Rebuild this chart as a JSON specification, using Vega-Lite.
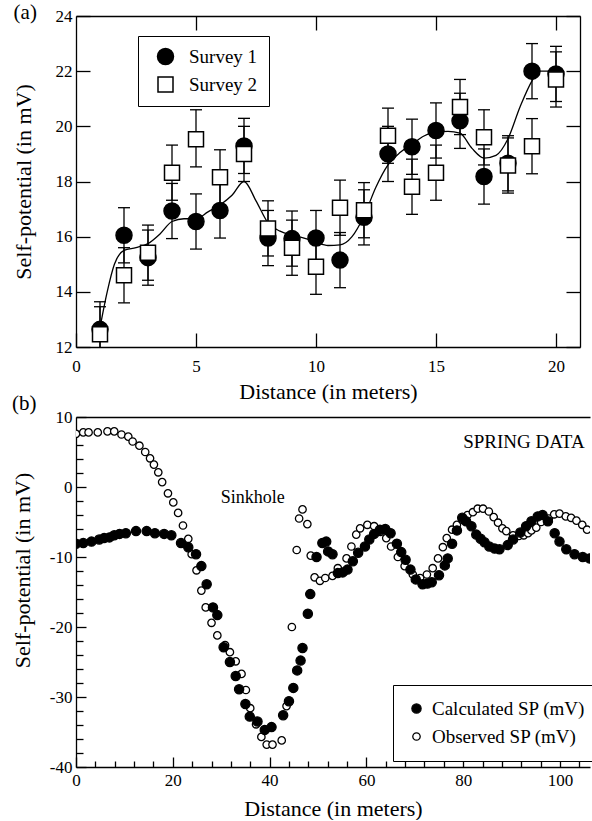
{
  "$schema": "https://vega.github.io/schema/vega-lite/v6.json",
  "background": "white",
  "padding": {"left": 11, "top": 2, "right": 1, "bottom": 1},
  "bounds": "flush",
  "spacing": 70,
  "config": {
    "view": {"stroke": null},
    "font": "Liberation Serif",
    "axis": {"domainColor": "black", "domainWidth": 1.3, "tickColor": "black", "tickWidth": 1.3, "labelFont": "Liberation Serif", "labelFontSize": 17, "labelColor": "black", "titleFont": "Liberation Serif", "titleFontSize": 22, "titleFontWeight": "normal", "titleColor": "black", "grid": false, "labelFlush": false, "labelOverlap": false},
    "text": {"font": "Liberation Serif", "color": "black"}
  },
  "resolve": {"scale": {"fill": "independent", "shape": "independent", "size": "independent", "stroke": "independent"}, "legend": {"fill": "independent", "shape": "independent", "size": "independent", "stroke": "independent"}},
  "datasets": {
    "line_a": [
      {"x": 1, "v": 12.7}, {"x": 1.3, "v": 14.0}, {"x": 1.6, "v": 15.0}, {"x": 2, "v": 15.5}, {"x": 2.5, "v": 15.6}, {"x": 3, "v": 15.75}, {"x": 3.5, "v": 16.1}, {"x": 4, "v": 16.55}, {"x": 4.5, "v": 16.65}, {"x": 5, "v": 16.65}, {"x": 5.5, "v": 16.9}, {"x": 6, "v": 17.15}, {"x": 6.5, "v": 17.5}, {"x": 7, "v": 18.0}, {"x": 7.5, "v": 17.3}, {"x": 8, "v": 16.5}, {"x": 8.5, "v": 16.2}, {"x": 9, "v": 16.05}, {"x": 9.5, "v": 15.95}, {"x": 10, "v": 15.8}, {"x": 10.5, "v": 15.68}, {"x": 11, "v": 15.7}, {"x": 11.5, "v": 16.0}, {"x": 12, "v": 16.75}, {"x": 12.5, "v": 17.8}, {"x": 13, "v": 18.6}, {"x": 13.5, "v": 19.05}, {"x": 14, "v": 19.35}, {"x": 14.5, "v": 19.65}, {"x": 15, "v": 19.8}, {"x": 15.5, "v": 19.82}, {"x": 16, "v": 19.75}, {"x": 16.5, "v": 19.2}, {"x": 17, "v": 18.85}, {"x": 17.5, "v": 18.95}, {"x": 18, "v": 19.55}, {"x": 18.5, "v": 20.7}, {"x": 19, "v": 21.65}, {"x": 19.3, "v": 22.0}, {"x": 20, "v": 22.0}
    ],
    "survey_a": [
      {"series": "Survey 1", "x": 1, "v": 12.64, "lo": 11.64, "hi": 13.64},
      {"series": "Survey 1", "x": 2, "v": 16.05, "lo": 15.05, "hi": 17.05},
      {"series": "Survey 1", "x": 3, "v": 15.24, "lo": 14.24, "hi": 16.24},
      {"series": "Survey 1", "x": 4, "v": 16.93, "lo": 15.93, "hi": 17.93},
      {"series": "Survey 1", "x": 5, "v": 16.55, "lo": 15.55, "hi": 17.55},
      {"series": "Survey 1", "x": 6, "v": 16.95, "lo": 15.95, "hi": 17.95},
      {"series": "Survey 1", "x": 7, "v": 19.29, "lo": 18.29, "hi": 20.29},
      {"series": "Survey 1", "x": 8, "v": 15.95, "lo": 14.95, "hi": 16.95},
      {"series": "Survey 1", "x": 9, "v": 15.93, "lo": 14.93, "hi": 16.93},
      {"series": "Survey 1", "x": 10, "v": 15.95, "lo": 14.95, "hi": 16.95},
      {"series": "Survey 1", "x": 11, "v": 15.15, "lo": 14.15, "hi": 16.15},
      {"series": "Survey 1", "x": 12, "v": 16.7, "lo": 15.7, "hi": 17.7},
      {"series": "Survey 1", "x": 13, "v": 19.0, "lo": 18.0, "hi": 20.0},
      {"series": "Survey 1", "x": 14, "v": 19.26, "lo": 18.26, "hi": 20.26},
      {"series": "Survey 1", "x": 15, "v": 19.85, "lo": 18.85, "hi": 20.85},
      {"series": "Survey 1", "x": 16, "v": 20.2, "lo": 19.2, "hi": 21.2},
      {"series": "Survey 1", "x": 17, "v": 18.18, "lo": 17.18, "hi": 19.18},
      {"series": "Survey 1", "x": 18, "v": 18.66, "lo": 17.66, "hi": 19.66},
      {"series": "Survey 1", "x": 19, "v": 22.0, "lo": 21.0, "hi": 23.0},
      {"series": "Survey 1", "x": 20, "v": 21.9, "lo": 20.9, "hi": 22.9},
      {"series": "Survey 2", "x": 1, "v": 12.46, "lo": 11.46, "hi": 13.46},
      {"series": "Survey 2", "x": 2, "v": 14.6, "lo": 13.6, "hi": 15.6},
      {"series": "Survey 2", "x": 3, "v": 15.42, "lo": 14.42, "hi": 16.42},
      {"series": "Survey 2", "x": 4, "v": 18.32, "lo": 17.32, "hi": 19.32},
      {"series": "Survey 2", "x": 5, "v": 19.53, "lo": 18.53, "hi": 20.6},
      {"series": "Survey 2", "x": 6, "v": 18.15, "lo": 17.15, "hi": 19.15},
      {"series": "Survey 2", "x": 7, "v": 19.0, "lo": 18.0, "hi": 20.0},
      {"series": "Survey 2", "x": 8, "v": 16.3, "lo": 15.3, "hi": 17.3},
      {"series": "Survey 2", "x": 9, "v": 15.6, "lo": 14.6, "hi": 16.6},
      {"series": "Survey 2", "x": 10, "v": 14.91, "lo": 13.91, "hi": 15.91},
      {"series": "Survey 2", "x": 11, "v": 17.05, "lo": 16.05, "hi": 18.05},
      {"series": "Survey 2", "x": 12, "v": 16.96, "lo": 15.96, "hi": 17.96},
      {"series": "Survey 2", "x": 13, "v": 19.66, "lo": 18.66, "hi": 20.66},
      {"series": "Survey 2", "x": 14, "v": 17.81, "lo": 16.81, "hi": 18.81},
      {"series": "Survey 2", "x": 15, "v": 18.32, "lo": 17.32, "hi": 19.32},
      {"series": "Survey 2", "x": 16, "v": 20.7, "lo": 19.7, "hi": 21.7},
      {"series": "Survey 2", "x": 17, "v": 19.6, "lo": 18.6, "hi": 20.6},
      {"series": "Survey 2", "x": 18, "v": 18.58, "lo": 17.58, "hi": 19.58},
      {"series": "Survey 2", "x": 19, "v": 19.28, "lo": 18.28, "hi": 20.28},
      {"series": "Survey 2", "x": 20, "v": 21.7, "lo": 20.7, "hi": 22.7}
    ],
    "sp_b": [
      {"series": "Observed SP (mV)", "d": 0, "sp": 7.6}, {"series": "Observed SP (mV)", "d": 1.5, "sp": 7.8}, {"series": "Observed SP (mV)", "d": 2.6, "sp": 7.8}, {"series": "Observed SP (mV)", "d": 4.5, "sp": 7.8}, {"series": "Observed SP (mV)", "d": 6.5, "sp": 7.95}, {"series": "Observed SP (mV)", "d": 7.9, "sp": 7.95}, {"series": "Observed SP (mV)", "d": 9.4, "sp": 7.5}, {"series": "Observed SP (mV)", "d": 10.8, "sp": 7.2}, {"series": "Observed SP (mV)", "d": 11.7, "sp": 6.5}, {"series": "Observed SP (mV)", "d": 13.1, "sp": 5.9}, {"series": "Observed SP (mV)", "d": 14.3, "sp": 5.0}, {"series": "Observed SP (mV)", "d": 15.3, "sp": 4.1}, {"series": "Observed SP (mV)", "d": 16.1, "sp": 3.2}, {"series": "Observed SP (mV)", "d": 17.0, "sp": 2.1}, {"series": "Observed SP (mV)", "d": 17.8, "sp": 0.7}, {"series": "Observed SP (mV)", "d": 19.0, "sp": -0.9}, {"series": "Observed SP (mV)", "d": 20.1, "sp": -2.2}, {"series": "Observed SP (mV)", "d": 21.1, "sp": -3.7}, {"series": "Observed SP (mV)", "d": 22.1, "sp": -5.5}, {"series": "Observed SP (mV)", "d": 23.2, "sp": -7.4}, {"series": "Observed SP (mV)", "d": 23.9, "sp": -9.6}, {"series": "Observed SP (mV)", "d": 24.9, "sp": -11.9}, {"series": "Observed SP (mV)", "d": 25.9, "sp": -14.8}, {"series": "Observed SP (mV)", "d": 26.8, "sp": -17.2}, {"series": "Observed SP (mV)", "d": 28.0, "sp": -19.4}, {"series": "Observed SP (mV)", "d": 29.2, "sp": -21.2}, {"series": "Observed SP (mV)", "d": 30.8, "sp": -22.6}, {"series": "Observed SP (mV)", "d": 31.8, "sp": -23.6}, {"series": "Observed SP (mV)", "d": 33.0, "sp": -24.9}, {"series": "Observed SP (mV)", "d": 34.2, "sp": -26.7}, {"series": "Observed SP (mV)", "d": 35.1, "sp": -29.0}, {"series": "Observed SP (mV)", "d": 36.0, "sp": -31.6}, {"series": "Observed SP (mV)", "d": 37.2, "sp": -33.9}, {"series": "Observed SP (mV)", "d": 38.3, "sp": -35.7}, {"series": "Observed SP (mV)", "d": 39.4, "sp": -36.8}, {"series": "Observed SP (mV)", "d": 40.6, "sp": -36.8}, {"series": "Observed SP (mV)", "d": 42.5, "sp": -36.2}, {"series": "Observed SP (mV)", "d": 43.5, "sp": -31.3}, {"series": "Observed SP (mV)", "d": 44.6, "sp": -20.0}, {"series": "Observed SP (mV)", "d": 45.6, "sp": -9.0}, {"series": "Observed SP (mV)", "d": 46.1, "sp": -4.5}, {"series": "Observed SP (mV)", "d": 46.8, "sp": -3.2}, {"series": "Observed SP (mV)", "d": 47.8, "sp": -5.3}, {"series": "Observed SP (mV)", "d": 48.5, "sp": -9.8}, {"series": "Observed SP (mV)", "d": 49.3, "sp": -12.9}, {"series": "Observed SP (mV)", "d": 50.4, "sp": -13.4}, {"series": "Observed SP (mV)", "d": 51.5, "sp": -13.0}, {"series": "Observed SP (mV)", "d": 53.0, "sp": -12.7}, {"series": "Observed SP (mV)", "d": 54.1, "sp": -11.6}, {"series": "Observed SP (mV)", "d": 55.9, "sp": -10.2}, {"series": "Observed SP (mV)", "d": 56.9, "sp": -8.5}, {"series": "Observed SP (mV)", "d": 57.9, "sp": -6.8}, {"series": "Observed SP (mV)", "d": 58.7, "sp": -5.9}, {"series": "Observed SP (mV)", "d": 60.2, "sp": -5.4}, {"series": "Observed SP (mV)", "d": 61.6, "sp": -5.6}, {"series": "Observed SP (mV)", "d": 62.9, "sp": -6.4}, {"series": "Observed SP (mV)", "d": 64.1, "sp": -7.3}, {"series": "Observed SP (mV)", "d": 65.1, "sp": -8.5}, {"series": "Observed SP (mV)", "d": 66.5, "sp": -10.0}, {"series": "Observed SP (mV)", "d": 67.9, "sp": -11.3}, {"series": "Observed SP (mV)", "d": 69.6, "sp": -12.5}, {"series": "Observed SP (mV)", "d": 71.1, "sp": -13.0}, {"series": "Observed SP (mV)", "d": 72.5, "sp": -12.5}, {"series": "Observed SP (mV)", "d": 73.7, "sp": -11.6}, {"series": "Observed SP (mV)", "d": 74.8, "sp": -10.2}, {"series": "Observed SP (mV)", "d": 75.8, "sp": -8.6}, {"series": "Observed SP (mV)", "d": 76.6, "sp": -7.3}, {"series": "Observed SP (mV)", "d": 77.7, "sp": -6.1}, {"series": "Observed SP (mV)", "d": 78.7, "sp": -5.4}, {"series": "Observed SP (mV)", "d": 79.8, "sp": -4.7}, {"series": "Observed SP (mV)", "d": 80.9, "sp": -4.0}, {"series": "Observed SP (mV)", "d": 82.0, "sp": -3.6}, {"series": "Observed SP (mV)", "d": 83.0, "sp": -3.1}, {"series": "Observed SP (mV)", "d": 84.1, "sp": -3.1}, {"series": "Observed SP (mV)", "d": 85.3, "sp": -3.5}, {"series": "Observed SP (mV)", "d": 86.3, "sp": -4.3}, {"series": "Observed SP (mV)", "d": 87.2, "sp": -5.1}, {"series": "Observed SP (mV)", "d": 88.1, "sp": -5.9}, {"series": "Observed SP (mV)", "d": 88.9, "sp": -6.3}, {"series": "Observed SP (mV)", "d": 90.3, "sp": -6.9}, {"series": "Observed SP (mV)", "d": 91.5, "sp": -7.0}, {"series": "Observed SP (mV)", "d": 92.5, "sp": -6.9}, {"series": "Observed SP (mV)", "d": 93.4, "sp": -6.6}, {"series": "Observed SP (mV)", "d": 94.1, "sp": -6.2}, {"series": "Observed SP (mV)", "d": 95.1, "sp": -5.8}, {"series": "Observed SP (mV)", "d": 96.1, "sp": -5.0}, {"series": "Observed SP (mV)", "d": 97.7, "sp": -4.5}, {"series": "Observed SP (mV)", "d": 98.8, "sp": -3.9}, {"series": "Observed SP (mV)", "d": 99.9, "sp": -3.8}, {"series": "Observed SP (mV)", "d": 101.2, "sp": -4.2}, {"series": "Observed SP (mV)", "d": 102.3, "sp": -4.4}, {"series": "Observed SP (mV)", "d": 103.4, "sp": -4.8}, {"series": "Observed SP (mV)", "d": 104.6, "sp": -5.4}, {"series": "Observed SP (mV)", "d": 105.6, "sp": -6.1},
      {"series": "Calculated SP (mV)", "d": 0, "sp": -8.1}, {"series": "Calculated SP (mV)", "d": 1.5, "sp": -8.0}, {"series": "Calculated SP (mV)", "d": 3.2, "sp": -7.8}, {"series": "Calculated SP (mV)", "d": 4.8, "sp": -7.5}, {"series": "Calculated SP (mV)", "d": 5.8, "sp": -7.3}, {"series": "Calculated SP (mV)", "d": 6.9, "sp": -7.2}, {"series": "Calculated SP (mV)", "d": 7.9, "sp": -6.9}, {"series": "Calculated SP (mV)", "d": 9.0, "sp": -6.7}, {"series": "Calculated SP (mV)", "d": 10.3, "sp": -6.6}, {"series": "Calculated SP (mV)", "d": 12.4, "sp": -6.3}, {"series": "Calculated SP (mV)", "d": 14.6, "sp": -6.3}, {"series": "Calculated SP (mV)", "d": 16.3, "sp": -6.6}, {"series": "Calculated SP (mV)", "d": 18.2, "sp": -6.7}, {"series": "Calculated SP (mV)", "d": 19.7, "sp": -6.9}, {"series": "Calculated SP (mV)", "d": 21.7, "sp": -8.0}, {"series": "Calculated SP (mV)", "d": 23.2, "sp": -8.6}, {"series": "Calculated SP (mV)", "d": 24.8, "sp": -9.6}, {"series": "Calculated SP (mV)", "d": 25.9, "sp": -11.3}, {"series": "Calculated SP (mV)", "d": 27.0, "sp": -13.9}, {"series": "Calculated SP (mV)", "d": 28.3, "sp": -17.2}, {"series": "Calculated SP (mV)", "d": 29.2, "sp": -18.3}, {"series": "Calculated SP (mV)", "d": 30.5, "sp": -22.9}, {"series": "Calculated SP (mV)", "d": 31.8, "sp": -25.0}, {"series": "Calculated SP (mV)", "d": 33.0, "sp": -27.0}, {"series": "Calculated SP (mV)", "d": 33.7, "sp": -28.9}, {"series": "Calculated SP (mV)", "d": 35.0, "sp": -31.0}, {"series": "Calculated SP (mV)", "d": 35.9, "sp": -32.8}, {"series": "Calculated SP (mV)", "d": 37.5, "sp": -33.5}, {"series": "Calculated SP (mV)", "d": 39.0, "sp": -34.7}, {"series": "Calculated SP (mV)", "d": 40.4, "sp": -34.3}, {"series": "Calculated SP (mV)", "d": 42.8, "sp": -32.6}, {"series": "Calculated SP (mV)", "d": 44.0, "sp": -30.6}, {"series": "Calculated SP (mV)", "d": 44.9, "sp": -28.7}, {"series": "Calculated SP (mV)", "d": 45.7, "sp": -26.2}, {"series": "Calculated SP (mV)", "d": 46.4, "sp": -24.8}, {"series": "Calculated SP (mV)", "d": 46.8, "sp": -23.0}, {"series": "Calculated SP (mV)", "d": 47.9, "sp": -18.1}, {"series": "Calculated SP (mV)", "d": 48.4, "sp": -15.3}, {"series": "Calculated SP (mV)", "d": 49.7, "sp": -10.0}, {"series": "Calculated SP (mV)", "d": 50.9, "sp": -8.0}, {"series": "Calculated SP (mV)", "d": 51.7, "sp": -7.8}, {"series": "Calculated SP (mV)", "d": 52.1, "sp": -9.2}, {"series": "Calculated SP (mV)", "d": 53.0, "sp": -9.6}, {"series": "Calculated SP (mV)", "d": 54.1, "sp": -12.3}, {"series": "Calculated SP (mV)", "d": 55.1, "sp": -12.2}, {"series": "Calculated SP (mV)", "d": 56.1, "sp": -11.8}, {"series": "Calculated SP (mV)", "d": 57.2, "sp": -10.6}, {"series": "Calculated SP (mV)", "d": 58.3, "sp": -9.4}, {"series": "Calculated SP (mV)", "d": 59.7, "sp": -8.5}, {"series": "Calculated SP (mV)", "d": 60.6, "sp": -7.5}, {"series": "Calculated SP (mV)", "d": 61.6, "sp": -6.7}, {"series": "Calculated SP (mV)", "d": 62.8, "sp": -6.1}, {"series": "Calculated SP (mV)", "d": 63.9, "sp": -6.0}, {"series": "Calculated SP (mV)", "d": 65.0, "sp": -6.6}, {"series": "Calculated SP (mV)", "d": 66.3, "sp": -8.1}, {"series": "Calculated SP (mV)", "d": 67.2, "sp": -9.3}, {"series": "Calculated SP (mV)", "d": 68.1, "sp": -10.4}, {"series": "Calculated SP (mV)", "d": 69.1, "sp": -11.8}, {"series": "Calculated SP (mV)", "d": 70.2, "sp": -13.2}, {"series": "Calculated SP (mV)", "d": 71.6, "sp": -13.9}, {"series": "Calculated SP (mV)", "d": 72.6, "sp": -13.8}, {"series": "Calculated SP (mV)", "d": 73.5, "sp": -13.6}, {"series": "Calculated SP (mV)", "d": 75.0, "sp": -12.6}, {"series": "Calculated SP (mV)", "d": 76.2, "sp": -11.2}, {"series": "Calculated SP (mV)", "d": 76.8, "sp": -10.2}, {"series": "Calculated SP (mV)", "d": 77.7, "sp": -8.1}, {"series": "Calculated SP (mV)", "d": 78.7, "sp": -6.2}, {"series": "Calculated SP (mV)", "d": 79.8, "sp": -4.4}, {"series": "Calculated SP (mV)", "d": 80.6, "sp": -4.9}, {"series": "Calculated SP (mV)", "d": 81.7, "sp": -5.6}, {"series": "Calculated SP (mV)", "d": 82.7, "sp": -6.8}, {"series": "Calculated SP (mV)", "d": 83.6, "sp": -7.4}, {"series": "Calculated SP (mV)", "d": 84.4, "sp": -7.9}, {"series": "Calculated SP (mV)", "d": 85.4, "sp": -8.5}, {"series": "Calculated SP (mV)", "d": 86.5, "sp": -8.8}, {"series": "Calculated SP (mV)", "d": 87.5, "sp": -8.9}, {"series": "Calculated SP (mV)", "d": 89.2, "sp": -8.3}, {"series": "Calculated SP (mV)", "d": 90.3, "sp": -7.5}, {"series": "Calculated SP (mV)", "d": 91.8, "sp": -6.5}, {"series": "Calculated SP (mV)", "d": 93.0, "sp": -5.6}, {"series": "Calculated SP (mV)", "d": 94.1, "sp": -4.9}, {"series": "Calculated SP (mV)", "d": 95.4, "sp": -4.2}, {"series": "Calculated SP (mV)", "d": 96.4, "sp": -4.0}, {"series": "Calculated SP (mV)", "d": 97.5, "sp": -4.9}, {"series": "Calculated SP (mV)", "d": 98.9, "sp": -6.6}, {"series": "Calculated SP (mV)", "d": 99.9, "sp": -7.8}, {"series": "Calculated SP (mV)", "d": 101.3, "sp": -8.9}, {"series": "Calculated SP (mV)", "d": 103.0, "sp": -9.6}, {"series": "Calculated SP (mV)", "d": 104.7, "sp": -10.0}, {"series": "Calculated SP (mV)", "d": 106.1, "sp": -10.2}
    ]
  },
  "vconcat": [
    {
      "width": 504,
      "height": 331,
      "layer": [
        {
          "data": {"name": "line_a"},
          "mark": {"type": "line", "interpolate": "monotone", "color": "black", "strokeWidth": 1.3},
          "encoding": {
            "x": {"field": "x", "type": "quantitative", "scale": {"domain": [0, 21], "nice": false, "zero": false},
              "axis": {"orient": "bottom", "values": [0, 5, 10, 15, 20], "tickSize": -14, "labelPadding": 25, "title": "Distance (in meters)", "titlePadding": 7}},
            "y": {"field": "v", "type": "quantitative", "scale": {"domain": [12, 24], "nice": false, "zero": false},
              "axis": {"orient": "left", "values": [12, 14, 16, 18, 20, 22, 24], "tickSize": -14, "labelPadding": 18, "title": "Self-potential (in mV)", "titlePadding": 20}}
          }
        },
        {
          "data": {"name": "survey_a"},
          "mark": {"type": "rule", "color": "black", "strokeWidth": 1.3, "clip": true},
          "encoding": {
            "x": {"field": "x", "type": "quantitative", "axis": {"orient": "top", "values": [5, 10, 15, 20], "tickSize": -14, "labels": false, "title": null}},
            "y": {"field": "lo", "type": "quantitative", "axis": {"orient": "right", "values": [12, 14, 16, 18, 20, 22, 24], "tickSize": -14, "labels": false, "title": null}},
            "y2": {"field": "hi"}
          }
        },
        {
          "data": {"name": "survey_a"},
          "mark": {"type": "tick", "orient": "horizontal", "color": "black", "size": 12, "thickness": 1.3, "clip": true, "opacity": 1},
          "encoding": {
            "x": {"field": "x", "type": "quantitative", "axis": null},
            "y": {"field": "lo", "type": "quantitative", "axis": null}
          }
        },
        {
          "data": {"name": "survey_a"},
          "mark": {"type": "tick", "orient": "horizontal", "color": "black", "size": 12, "thickness": 1.3, "clip": true, "opacity": 1},
          "encoding": {
            "x": {"field": "x", "type": "quantitative", "axis": null},
            "y": {"field": "hi", "type": "quantitative", "axis": null}
          }
        },
        {
          "data": {"name": "survey_a"},
          "mark": {"type": "point", "filled": true, "strokeWidth": 1.5, "opacity": 1},
          "encoding": {
            "x": {"field": "x", "type": "quantitative", "axis": null},
            "y": {"field": "v", "type": "quantitative", "axis": null},
            "shape": {"field": "series", "type": "nominal", "scale": {"domain": ["Survey 1", "Survey 2"], "range": ["circle", "square"]},
              "legend": {"orient": "none", "legendX": 62, "legendY": 20, "title": null, "padding": 11, "symbolOffset": 7, "strokeColor": "black", "fillColor": "white", "labelFont": "Liberation Serif", "labelFontSize": 19, "labelColor": "black", "labelOffset": 14, "rowPadding": 6, "symbolStrokeWidth": 1.5}},
            "fill": {"field": "series", "type": "nominal", "scale": {"domain": ["Survey 1", "Survey 2"], "range": ["black", "white"]},
              "legend": {"orient": "none", "legendX": 62, "legendY": 20, "title": null, "padding": 11, "symbolOffset": 7, "strokeColor": "black", "fillColor": "white", "labelFont": "Liberation Serif", "labelFontSize": 19, "labelColor": "black", "labelOffset": 14, "rowPadding": 6, "symbolStrokeWidth": 1.5}},
            "stroke": {"field": "series", "type": "nominal", "scale": {"domain": ["Survey 1", "Survey 2"], "range": ["black", "black"]},
              "legend": {"orient": "none", "legendX": 62, "legendY": 20, "title": null, "padding": 11, "symbolOffset": 7, "strokeColor": "black", "fillColor": "white", "labelFont": "Liberation Serif", "labelFontSize": 19, "labelColor": "black", "labelOffset": 14, "rowPadding": 6, "symbolStrokeWidth": 1.5}},
            "size": {"field": "series", "type": "nominal", "scale": {"domain": ["Survey 1", "Survey 2"], "range": [256, 225]},
              "legend": {"orient": "none", "legendX": 62, "legendY": 20, "title": null, "padding": 11, "symbolOffset": 7, "strokeColor": "black", "fillColor": "white", "labelFont": "Liberation Serif", "labelFontSize": 19, "labelColor": "black", "labelOffset": 14, "rowPadding": 6, "symbolStrokeWidth": 1.5}}
          }
        },
        {
          "data": {"values": [{}]},
          "mark": {"type": "text", "text": "(a)", "fontSize": 21, "align": "left", "baseline": "middle", "font": "Liberation Serif", "color": "black"},
          "encoding": {
            "x": {"datum": -2.6, "type": "quantitative", "axis": null},
            "y": {"datum": 24.1, "type": "quantitative", "axis": null}
          }
        }
      ],
      "resolve": {"axis": {"x": "independent", "y": "independent"}}
    },
    {
      "width": 514,
      "height": 350,
      "layer": [
        {
          "data": {"name": "sp_b"},
          "mark": {"type": "point", "filled": true, "strokeWidth": 1.3, "opacity": 1, "clip": true},
          "encoding": {
            "x": {"field": "d", "type": "quantitative", "scale": {"domain": [0, 106.2], "nice": false, "zero": false},
              "axis": {"orient": "bottom", "values": [0, 4, 8, 12, 16, 20, 24, 28, 32, 36, 40, 44, 48, 52, 56, 60, 64, 68, 72, 76, 80, 84, 88, 92, 96, 100, 104],
                "tickSize": {"condition": {"test": "datum.value % 20 === 0", "value": -10}, "value": -6},
                "labelExpr": "datum.value % 20 === 0 ? '' + datum.value : ''", "labelPadding": 15, "title": "Distance (in meters)", "titlePadding": 6}},
            "y": {"field": "sp", "type": "quantitative", "scale": {"domain": [-40, 10], "nice": false, "zero": false},
              "axis": {"orient": "left", "values": [-40, -38, -36, -34, -32, -30, -28, -26, -24, -22, -20, -18, -16, -14, -12, -10, -8, -6, -4, -2, 0, 2, 4, 6, 8, 10],
                "tickSize": {"condition": {"test": "datum.value % 10 === 0", "value": -10}, "value": -7},
                "labelExpr": "datum.value % 10 === 0 ? '' + datum.value : ''", "labelPadding": 14, "title": "Self-potential (in mV)", "titlePadding": 15, "titleY": 153}},
            "fill": {"field": "series", "type": "nominal", "scale": {"domain": ["Calculated SP (mV)", "Observed SP (mV)"], "range": ["black", "white"]},
              "legend": {"orient": "none", "legendX": 317, "legendY": 268, "title": null, "padding": 14, "strokeColor": "black", "fillColor": "white", "labelFont": "Liberation Serif", "labelFontSize": 19, "labelColor": "black", "labelOffset": 6, "rowPadding": 8, "symbolStrokeWidth": 1.3}},
            "stroke": {"field": "series", "type": "nominal", "scale": {"domain": ["Calculated SP (mV)", "Observed SP (mV)"], "range": ["black", "black"]},
              "legend": {"orient": "none", "legendX": 317, "legendY": 268, "title": null, "padding": 14, "strokeColor": "black", "fillColor": "white", "labelFont": "Liberation Serif", "labelFontSize": 19, "labelColor": "black", "labelOffset": 6, "rowPadding": 8, "symbolStrokeWidth": 1.3}},
            "size": {"field": "series", "type": "nominal", "scale": {"domain": ["Calculated SP (mV)", "Observed SP (mV)"], "range": [85, 55]},
              "legend": {"orient": "none", "legendX": 317, "legendY": 268, "title": null, "padding": 14, "strokeColor": "black", "fillColor": "white", "labelFont": "Liberation Serif", "labelFontSize": 19, "labelColor": "black", "labelOffset": 6, "rowPadding": 8, "symbolStrokeWidth": 1.3}}
          }
        },
        {
          "data": {"values": [{}]},
          "mark": {"type": "text", "text": "Sinkhole", "fontSize": 18, "align": "center", "baseline": "alphabetic", "font": "Liberation Serif", "color": "black"},
          "encoding": {
            "x": {"datum": 36.5, "type": "quantitative", "axis": {"orient": "top", "ticks": false, "labels": false, "title": null, "domain": true}},
            "y": {"datum": -2.26, "type": "quantitative", "axis": null}
          }
        },
        {
          "data": {"values": [{}]},
          "mark": {"type": "text", "text": "SPRING DATA", "fontSize": 19, "align": "right", "baseline": "alphabetic", "font": "Liberation Serif", "color": "black"},
          "encoding": {
            "x": {"datum": 105.1, "type": "quantitative", "axis": null},
            "y": {"datum": 5.57, "type": "quantitative", "axis": null}
          }
        },
        {
          "data": {"values": [{}]},
          "mark": {"type": "text", "text": "(b)", "fontSize": 21, "align": "left", "baseline": "middle", "font": "Liberation Serif", "color": "black"},
          "encoding": {
            "x": {"datum": -13.2, "type": "quantitative", "axis": null},
            "y": {"datum": 11.9, "type": "quantitative", "axis": null}
          }
        }
      ],
      "resolve": {"axis": {"x": "independent", "y": "independent"}}
    }
  ]
}
